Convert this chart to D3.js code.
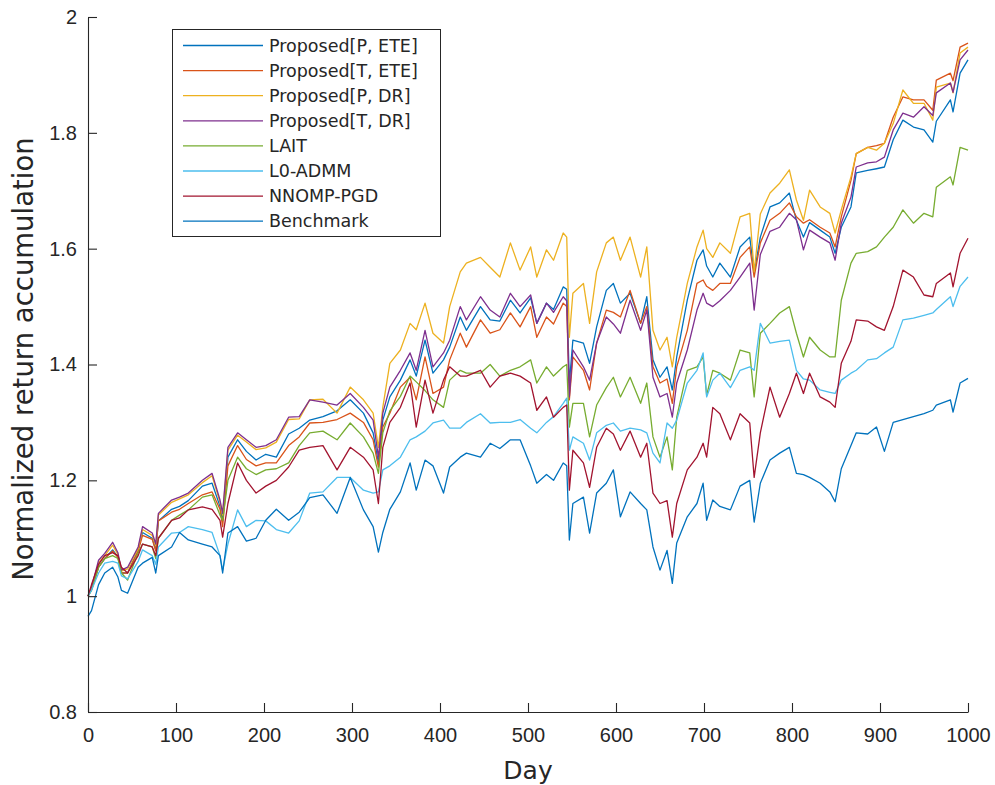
<!DOCTYPE html>
<html>
<head>
<meta charset="utf-8">
<script src="https://cdn.jsdelivr.net/npm/d3@7"></script>
<style>
  body { margin: 0; background: #fff; }
  svg text { font-family: "DejaVu Sans", "Liberation Sans", sans-serif; fill: #262626; }
  svg .tick text { font-family: "Liberation Sans", Arial, sans-serif; }
</style>
</head>
<body>
<div id="chart"></div>
<script>
  // Day of each sample
  var days = [0, 4, 12, 19, 28, 34, 38, 45, 57, 62, 73, 77, 80, 95, 104, 114, 130, 141, 150, 153,
    159, 170, 180, 191, 202, 214, 228, 240, 252, 267, 283, 298, 313, 324, 330, 335, 343, 355, 366, 373,
    383, 392, 404, 411, 423, 430, 446, 457, 468, 480, 491, 503, 510, 521, 529, 540, 544, 547, 551, 563,
    570, 578, 589, 597, 605, 616, 628, 635, 642, 650, 658, 664, 669, 681, 692, 699, 703, 710, 718, 730,
    741, 752, 757, 764, 775, 786, 797, 805, 813, 820, 832, 843, 849, 856, 867, 873, 886, 896, 905, 915,
    926, 938, 950, 960, 964, 980, 983, 991, 1000]

  var propPETE = [1.0, 1.012, 1.05, 1.065, 1.08, 1.068, 1.04, 1.04, 1.08, 1.11, 1.1, 1.08, 1.13, 1.15, 1.155, 1.165, 1.19, 1.195, 1.155, 1.13,
    1.24, 1.27, 1.25, 1.235, 1.245, 1.24, 1.28, 1.29, 1.304, 1.31, 1.32, 1.339, 1.316, 1.282, 1.23, 1.304, 1.344, 1.373, 1.408, 1.38,
    1.442, 1.385, 1.408, 1.43, 1.482, 1.459, 1.5, 1.477, 1.475, 1.511, 1.489, 1.515, 1.471, 1.506, 1.495, 1.534, 1.53, 1.368, 1.442, 1.437,
    1.402, 1.465, 1.528, 1.54, 1.506, 1.523, 1.471, 1.517, 1.408, 1.378, 1.396, 1.356, 1.413, 1.511, 1.58, 1.598, 1.57, 1.551, 1.575, 1.551,
    1.603, 1.62, 1.558, 1.62, 1.672, 1.679, 1.696, 1.649, 1.62, 1.645, 1.632, 1.62, 1.592, 1.637, 1.672, 1.731, 1.735, 1.738, 1.741, 1.788,
    1.822, 1.81, 1.805, 1.784, 1.82, 1.857, 1.836, 1.903, 1.926]

  var propTETE = [1.0, 1.012, 1.05, 1.065, 1.078, 1.067, 1.04, 1.04, 1.078, 1.105, 1.098, 1.078, 1.13, 1.145, 1.15, 1.16, 1.175, 1.18, 1.15, 1.12,
    1.225, 1.26, 1.236, 1.225, 1.23, 1.23, 1.26, 1.275, 1.299, 1.3, 1.305, 1.316, 1.3, 1.27, 1.223, 1.292, 1.316, 1.361, 1.378, 1.339,
    1.413, 1.35, 1.361, 1.408, 1.454, 1.43, 1.477, 1.454, 1.46, 1.489, 1.465, 1.5, 1.447, 1.482, 1.47, 1.506, 1.5, 1.339, 1.413, 1.39,
    1.356, 1.437, 1.494, 1.49, 1.482, 1.528, 1.471, 1.5, 1.396, 1.368, 1.375, 1.333, 1.396, 1.459, 1.54, 1.546, 1.535, 1.528, 1.54, 1.54,
    1.585, 1.603, 1.551, 1.61, 1.649, 1.661, 1.679, 1.655, 1.644, 1.65, 1.637, 1.627, 1.603, 1.655, 1.718, 1.764, 1.775, 1.778, 1.782, 1.827,
    1.862, 1.857, 1.857, 1.839, 1.891, 1.903, 1.89, 1.948, 1.955]

  var propPDR = [1.0, 1.013, 1.058, 1.07, 1.088, 1.072, 1.043, 1.047, 1.082, 1.115, 1.105, 1.087, 1.14, 1.162, 1.168, 1.175, 1.196, 1.208, 1.162, 1.14,
    1.252, 1.278, 1.266, 1.253, 1.256, 1.266, 1.305, 1.306, 1.339, 1.34, 1.316, 1.361, 1.339, 1.316, 1.257, 1.326, 1.402, 1.425, 1.471, 1.46,
    1.506, 1.454, 1.437, 1.5, 1.56, 1.575, 1.585, 1.568, 1.551, 1.61, 1.563, 1.603, 1.551, 1.598, 1.58, 1.627, 1.62, 1.447, 1.523, 1.54,
    1.471, 1.56, 1.61, 1.62, 1.58, 1.62, 1.551, 1.603, 1.459, 1.425, 1.447, 1.396, 1.447, 1.54, 1.603, 1.632, 1.6, 1.585, 1.61, 1.592,
    1.655, 1.661, 1.56, 1.66, 1.696, 1.713, 1.736, 1.684, 1.649, 1.701, 1.672, 1.661, 1.627, 1.667, 1.724, 1.764, 1.775, 1.77, 1.782, 1.816,
    1.874, 1.851, 1.851, 1.822, 1.879, 1.886, 1.869, 1.938, 1.948]

  var propTDR = [1.0, 1.015, 1.062, 1.074, 1.093, 1.075, 1.045, 1.05, 1.085, 1.12, 1.109, 1.09, 1.143, 1.166, 1.171, 1.178, 1.2, 1.212, 1.166, 1.143,
    1.257, 1.282, 1.27, 1.257, 1.26, 1.27, 1.309, 1.31, 1.339, 1.335, 1.33, 1.35, 1.326, 1.304, 1.24, 1.316, 1.361, 1.39, 1.42, 1.39,
    1.459, 1.396, 1.42, 1.442, 1.5, 1.477, 1.517, 1.494, 1.482, 1.523, 1.5, 1.52, 1.471, 1.506, 1.49, 1.517, 1.51, 1.344, 1.425, 1.396,
    1.373, 1.437, 1.482, 1.47, 1.454, 1.511, 1.459, 1.494, 1.378, 1.344, 1.35, 1.309, 1.368, 1.425, 1.494, 1.523, 1.506, 1.5, 1.51, 1.528,
    1.551, 1.575, 1.494, 1.59, 1.63, 1.637, 1.661, 1.65, 1.598, 1.632, 1.62, 1.61, 1.58, 1.644, 1.689, 1.741, 1.748, 1.75, 1.758, 1.805,
    1.834, 1.827, 1.845, 1.83, 1.869, 1.886, 1.87, 1.926, 1.943]

  var lait = [1.0, 1.01, 1.05, 1.065, 1.07, 1.065, 1.04, 1.028, 1.075, 1.09, 1.085, 1.065, 1.1, 1.131, 1.14, 1.149, 1.171, 1.175, 1.14, 1.131,
    1.2, 1.24, 1.22, 1.21, 1.218, 1.22, 1.23, 1.26, 1.282, 1.285, 1.27, 1.299, 1.275, 1.247, 1.212, 1.282, 1.32, 1.345, 1.38, 1.37,
    1.355, 1.339, 1.326, 1.373, 1.39, 1.385, 1.385, 1.4, 1.38, 1.39, 1.396, 1.408, 1.368, 1.396, 1.38, 1.396, 1.4, 1.292, 1.333, 1.333,
    1.275, 1.33, 1.36, 1.378, 1.344, 1.378, 1.333, 1.368, 1.275, 1.24, 1.275, 1.218, 1.309, 1.39, 1.396, 1.413, 1.347, 1.39, 1.385, 1.373,
    1.425, 1.42, 1.344, 1.454, 1.471, 1.489, 1.5, 1.454, 1.413, 1.447, 1.425, 1.413, 1.413, 1.511, 1.575, 1.592, 1.595, 1.603, 1.62, 1.637,
    1.667, 1.644, 1.661, 1.655, 1.706, 1.724, 1.71, 1.775, 1.77]

  var l0admm = [1.0, 1.01, 1.04, 1.057, 1.06, 1.057, 1.035, 1.03, 1.06, 1.08, 1.07, 1.055, 1.085, 1.109, 1.11, 1.12, 1.115, 1.11, 1.07, 1.045,
    1.09, 1.149, 1.12, 1.131, 1.13, 1.115, 1.109, 1.13, 1.178, 1.18, 1.205, 1.205, 1.183, 1.178, 1.18, 1.218, 1.225, 1.24, 1.27, 1.275,
    1.285, 1.299, 1.304, 1.29, 1.29, 1.3, 1.315, 1.299, 1.3, 1.3, 1.305, 1.29, 1.282, 1.3, 1.31, 1.333, 1.342, 1.252, 1.275, 1.264,
    1.235, 1.282, 1.295, 1.299, 1.285, 1.29, 1.287, 1.282, 1.247, 1.23, 1.299, 1.29, 1.304, 1.368, 1.39, 1.42, 1.344, 1.373, 1.385, 1.36,
    1.39, 1.396, 1.39, 1.471, 1.437, 1.44, 1.442, 1.39, 1.375, 1.373, 1.356, 1.352, 1.35, 1.373, 1.385, 1.39, 1.408, 1.41, 1.42, 1.43,
    1.477, 1.48, 1.485, 1.489, 1.495, 1.517, 1.5, 1.535, 1.551]

  var nnomp = [1.0, 1.02, 1.055, 1.07, 1.075, 1.07, 1.05, 1.04, 1.07, 1.09, 1.085, 1.07, 1.1, 1.131, 1.135, 1.149, 1.154, 1.15, 1.131, 1.102,
    1.16, 1.23, 1.2, 1.178, 1.19, 1.2, 1.223, 1.252, 1.257, 1.26, 1.218, 1.257, 1.24, 1.218, 1.16, 1.257, 1.3, 1.326, 1.368, 1.292,
    1.373, 1.316, 1.373, 1.396, 1.38, 1.38, 1.39, 1.361, 1.38, 1.385, 1.38, 1.368, 1.321, 1.344, 1.309, 1.326, 1.33, 1.183, 1.252, 1.23,
    1.188, 1.257, 1.29, 1.28, 1.252, 1.285, 1.24, 1.264, 1.178, 1.16, 1.165, 1.102, 1.16, 1.218, 1.24, 1.264, 1.24, 1.326, 1.315, 1.27,
    1.315, 1.299, 1.205, 1.282, 1.361, 1.309, 1.35, 1.385, 1.35, 1.385, 1.344, 1.335, 1.326, 1.402, 1.44, 1.477, 1.475, 1.465, 1.459, 1.5,
    1.563, 1.551, 1.52, 1.517, 1.54, 1.558, 1.534, 1.592, 1.618]

  var benchmark = [0.965, 0.975, 1.02, 1.04, 1.05, 1.033, 1.01, 1.005, 1.05, 1.057, 1.067, 1.04, 1.07, 1.085, 1.11, 1.097, 1.09, 1.085, 1.07, 1.04,
    1.109, 1.12, 1.095, 1.1, 1.131, 1.15, 1.131, 1.145, 1.17, 1.175, 1.143, 1.205, 1.149, 1.12, 1.076, 1.11, 1.15, 1.18, 1.23, 1.183,
    1.235, 1.225, 1.178, 1.223, 1.24, 1.247, 1.24, 1.264, 1.255, 1.27, 1.27, 1.225, 1.195, 1.21, 1.2, 1.23, 1.225, 1.097, 1.16, 1.171,
    1.109, 1.178, 1.195, 1.218, 1.137, 1.18, 1.16, 1.149, 1.085, 1.045, 1.079, 1.022, 1.092, 1.137, 1.16, 1.195, 1.131, 1.166, 1.155, 1.149,
    1.19, 1.2, 1.128, 1.195, 1.235, 1.247, 1.257, 1.212, 1.21, 1.205, 1.195, 1.18, 1.163, 1.22, 1.26, 1.282, 1.28, 1.292, 1.25, 1.3,
    1.305, 1.31, 1.315, 1.321, 1.33, 1.339, 1.318, 1.368, 1.376]

  var seriesNames = ["Proposed[P, ETE]", "Proposed[T, ETE]", "Proposed[P, DR]", "Proposed[T, DR]",
    "LAIT", "L0-ADMM", "NNOMP-PGD", "Benchmark"]
  var seriesValues = [propPETE, propTETE, propPDR, propTDR, lait, l0admm, nnomp, benchmark]
  var xTicks = [0, 100, 200, 300, 400, 500, 600, 700, 800, 900, 1000]
  var yTicks = [0.8, 1, 1.2, 1.4, 1.6, 1.8, 2]

  // MATLAB default colour order
  var colors = ["#0072BD", "#D95319", "#EDB120", "#7E2F8E", "#77AC30", "#4DBEEE", "#A2142F", "#0072BD"]

  var width = 995
  var height = 785
  var plotLeft = 88, plotRight = 968, plotTop = 17, plotBottom = 712

  var svg = d3.select("#chart")
    .append("svg")
    .attr("width", width)
    .attr("height", height)

  var x = d3.scaleLinear().domain([0, 1000]).range([plotLeft, plotRight])
  var y = d3.scaleLinear().domain([0.8, 2]).range([plotBottom, plotTop])

  var line = d3.line()
    .x(function (d) { return x(d[0]) })
    .y(function (d) { return y(d[1]) })

  // Lines, drawn in plot order
  svg.append("g")
    .selectAll("path")
    .data(seriesValues)
    .enter()
    .append("path")
    .attr("fill", "none")
    .attr("stroke", function (d, i) { return colors[i] })
    .attr("stroke-width", 1.3)
    .attr("stroke-linejoin", "round")
    .attr("d", function (vals) {
      return line(vals.map(function (v, j) { return [days[j], v] }))
    })

  // Axes (ticks pointing inward, like MATLAB)
  svg.append("g")
    .attr("transform", "translate(0," + plotBottom + ")")
    .call(d3.axisBottom(x).tickValues(xTicks).tickSizeInner(-9).tickSizeOuter(0).tickPadding(16)
      .tickFormat(function (d) { return String(d) }))
  svg.append("g")
    .attr("transform", "translate(" + plotLeft + ",0)")
    .call(d3.axisLeft(y).tickValues(yTicks).tickSizeInner(-9).tickSizeOuter(0).tickPadding(11)
      .tickFormat(function (d) { return String(d) }))

  svg.selectAll(".domain, .tick line").attr("stroke", "#262626").attr("stroke-width", 1.1)
  svg.selectAll(".tick text").style("font-size", "20px").attr("fill", "#262626")

  // Axis labels
  svg.append("text")
    .attr("x", (plotLeft + plotRight) / 2)
    .attr("y", 779)
    .attr("text-anchor", "middle")
    .style("font-size", "25px")
    .text("Day")

  svg.append("text")
    .attr("transform", "translate(33," + 359 + ") rotate(-90)")
    .attr("text-anchor", "middle")
    .style("font-size", "27.5px")
    .text("Normalized return accumulation")

  // Legend
  var legend = svg.append("g")
  legend.append("rect")
    .attr("x", 172.5).attr("y", 29.5)
    .attr("width", 268).attr("height", 207)
    .attr("fill", "#fff")
    .attr("stroke", "#262626")
    .attr("stroke-width", 1)

  var entry = legend.selectAll(".entry")
    .data(seriesNames)
    .enter()
    .append("g")
    .attr("transform", function (d, i) { return "translate(0," + (45.5 + i * 25.1) + ")" })

  entry.append("line")
    .attr("x1", 183).attr("x2", 263)
    .attr("stroke", function (d, i) { return colors[i] })
    .attr("stroke-width", 1.3)

  entry.append("text")
    .attr("x", 269)
    .attr("dy", "0.35em")
    .style("font-size", "17.5px")
    .text(function (d) { return d })
</script>
</body>
</html>
